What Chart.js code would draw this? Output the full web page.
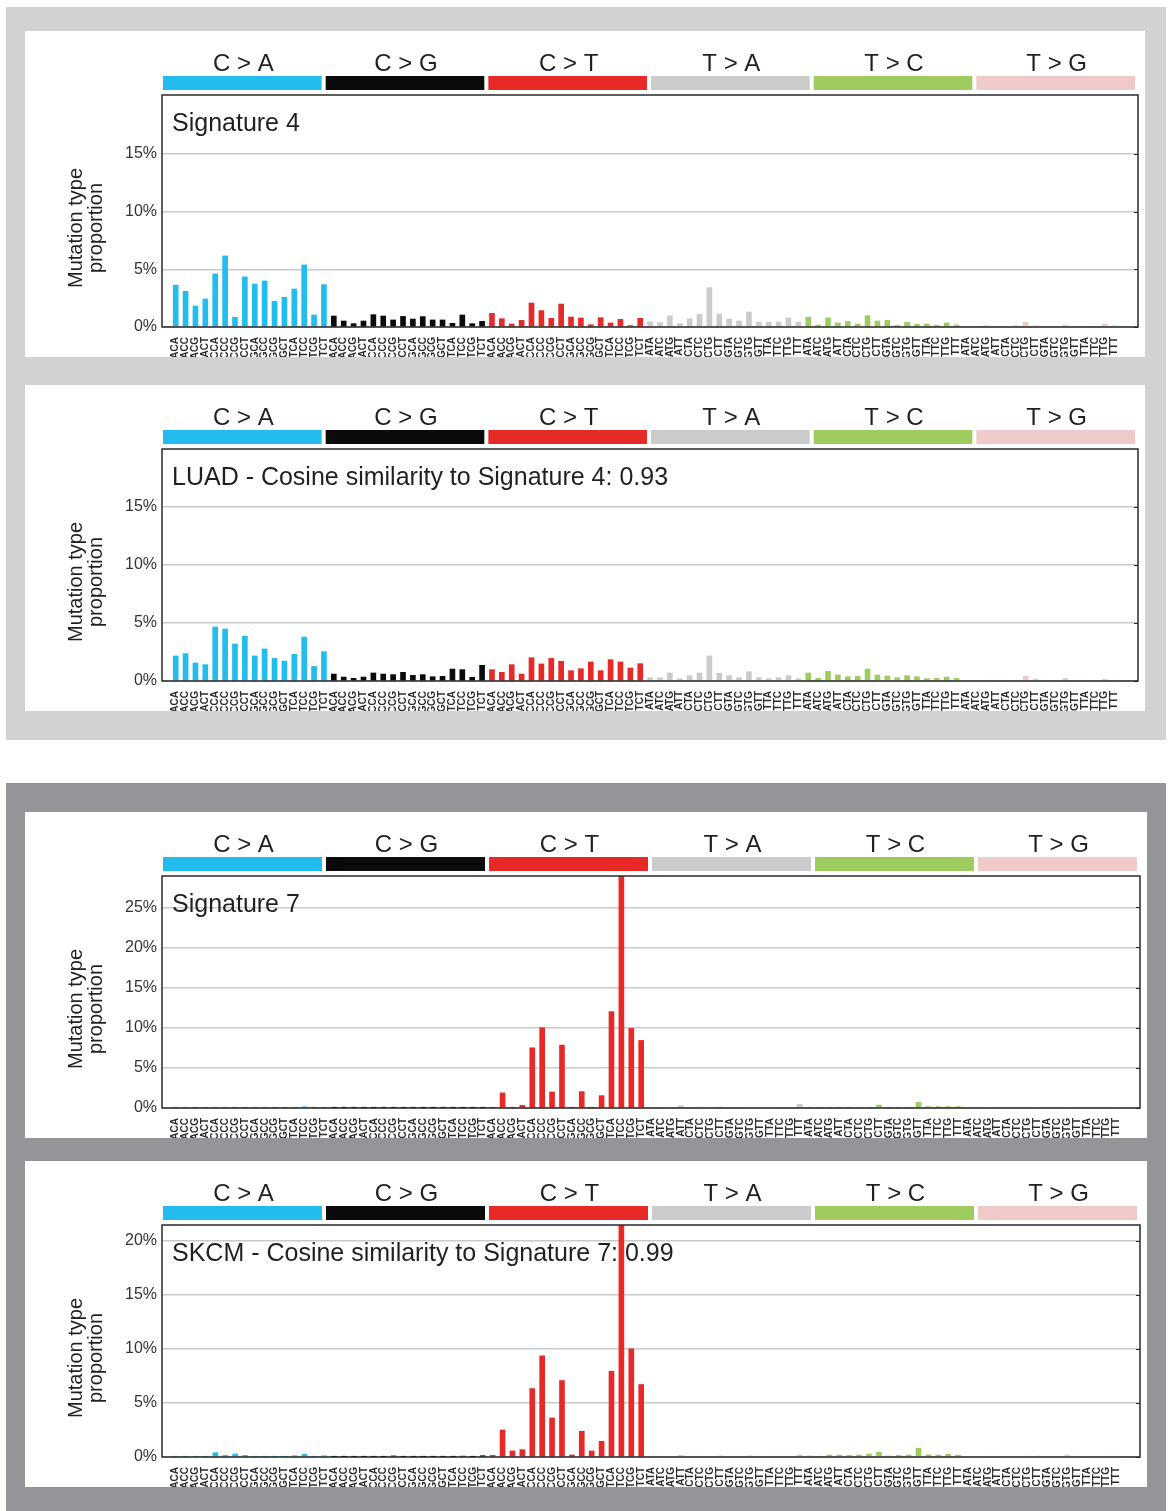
<!DOCTYPE html>
<html>
<head>
<meta charset="utf-8">
<title>Mutational signatures</title>
<script src="https://cdn.jsdelivr.net/npm/chart.js@4.4.1/dist/chart.umd.min.js"></script>
<style>
  body { margin: 0; background: #fff; width: 1168px; height: 1511px; position: relative; overflow: hidden; }
  .group { position: absolute; left: 6px; width: 1160px; }
  #groupTop { top: 7px; height: 733px; background: #d1d2d4; }
  #groupBottom { top: 783px; height: 728px; background: #939598; }
  .panel { position: absolute; left: 25px; background: #fff; }
  .panel canvas { display: block; }
</style>
</head>
<body>
<div class="group" id="groupTop"></div>
<div class="group" id="groupBottom"></div>
<div class="panel" style="top:31px"><canvas id="chartSig4" width="1120" height="326"></canvas></div>
<div class="panel" style="top:385px"><canvas id="chartLuad" width="1120" height="326"></canvas></div>
<div class="panel" style="top:812px"><canvas id="chartSig7" width="1122" height="326"></canvas></div>
<div class="panel" style="top:1161px"><canvas id="chartSkcm" width="1122" height="326"></canvas></div>

<script>
// --- Daten ---
const mutationTypes = ["C > A", "C > G", "C > T", "T > A", "T > C", "T > G"];
const typeColors = ["#22bdee", "#0b0b0b", "#e72a28", "#cbcbcb", "#9fcc5f", "#efcac8"];
const contextsC = ["ACA","ACC","ACG","ACT","CCA","CCC","CCG","CCT","GCA","GCC","GCG","GCT","TCA","TCC","TCG","TCT"];
const contextsT = ["ATA","ATC","ATG","ATT","CTA","CTC","CTG","CTT","GTA","GTC","GTG","GTT","TTA","TTC","TTG","TTT"];

// Werte in Prozent, 16 pro Mutationstyp
const sig4 = [
  3.61, 3.09, 1.82, 2.43, 4.60, 6.16, 0.84, 4.34, 3.73, 3.99, 2.23, 2.57, 3.29, 5.38, 1.04, 3.67,
  0.95, 0.52, 0.29, 0.52, 1.07, 0.95, 0.61, 0.92, 0.69, 0.90, 0.61, 0.61, 0.32, 1.04, 0.29, 0.49,
  1.18, 0.72, 0.26, 0.58, 2.08, 1.42, 0.75, 1.99, 0.87, 0.78, 0.20, 0.81, 0.35, 0.66, 0.12, 0.75,
  0.46, 0.38, 0.98, 0.29, 0.72, 1.10, 3.41, 1.13, 0.69, 0.52, 1.30, 0.43, 0.43, 0.43, 0.78, 0.43,
  0.84, 0.17, 0.78, 0.35, 0.49, 0.26, 0.98, 0.52, 0.58, 0.14, 0.40, 0.23, 0.26, 0.14, 0.35, 0.17,
  0.03, 0.03, 0.12, 0.03, 0.03, 0.12, 0.40, 0.09, 0.03, 0.03, 0.17, 0.03, 0.03, 0.03, 0.26, 0.09
];
const luad = [
  2.16, 2.36, 1.55, 1.41, 4.66, 4.48, 3.19, 3.85, 2.16, 2.76, 1.95, 1.72, 2.30, 3.79, 1.26, 2.53,
  0.60, 0.34, 0.23, 0.34, 0.69, 0.60, 0.55, 0.75, 0.49, 0.55, 0.37, 0.40, 1.03, 0.98, 0.32, 1.35,
  0.98, 0.75, 1.41, 0.60, 2.01, 1.47, 1.95, 1.70, 0.89, 1.06, 1.64, 0.89, 1.84, 1.64, 1.12, 1.49,
  0.29, 0.29, 0.69, 0.20, 0.46, 0.69, 2.16, 0.66, 0.46, 0.29, 0.80, 0.29, 0.20, 0.29, 0.46, 0.20,
  0.69, 0.23, 0.83, 0.52, 0.37, 0.40, 1.03, 0.52, 0.43, 0.29, 0.46, 0.37, 0.20, 0.23, 0.34, 0.23,
  0.03, 0.03, 0.06, 0.03, 0.03, 0.06, 0.40, 0.17, 0.03, 0.06, 0.23, 0.03, 0.03, 0.03, 0.14, 0.06
];
const sig7 = [
  0.02, 0.02, 0.02, 0.02, 0.06, 0.02, 0.02, 0.06, 0.02, 0.02, 0.02, 0.02, 0.06, 0.15, 0.02, 0.06,
  0.02, 0.02, 0.02, 0.02, 0.02, 0.02, 0.02, 0.02, 0.02, 0.02, 0.02, 0.02, 0.02, 0.04, 0.02, 0.04,
  0.05, 1.88, 0.05, 0.33, 7.50, 10.0, 2.00, 7.83, 0.05, 2.04, 0.05, 1.54, 12.0, 31.0, 9.92, 8.42,
  0.02, 0.02, 0.02, 0.29, 0.02, 0.12, 0.05, 0.12, 0.02, 0.02, 0.02, 0.02, 0.02, 0.05, 0.05, 0.46,
  0.02, 0.02, 0.05, 0.08, 0.08, 0.08, 0.05, 0.37, 0.02, 0.02, 0.05, 0.71, 0.17, 0.17, 0.17, 0.17,
  0.02, 0.02, 0.02, 0.02, 0.02, 0.02, 0.02, 0.05, 0.02, 0.02, 0.05, 0.02, 0.02, 0.02, 0.02, 0.05
];
const skcm = [
  0.05, 0.02, 0.02, 0.02, 0.40, 0.15, 0.28, 0.15, 0.02, 0.02, 0.02, 0.02, 0.12, 0.25, 0.02, 0.12,
  0.02, 0.02, 0.02, 0.02, 0.02, 0.02, 0.10, 0.02, 0.02, 0.02, 0.02, 0.02, 0.02, 0.08, 0.02, 0.12,
  0.15, 2.50, 0.56, 0.68, 6.33, 9.35, 3.61, 7.07, 0.19, 2.38, 0.56, 1.45, 7.93, 23.0, 10.0, 6.70,
  0.02, 0.02, 0.02, 0.15, 0.02, 0.02, 0.02, 0.10, 0.02, 0.02, 0.10, 0.02, 0.02, 0.02, 0.02, 0.18,
  0.09, 0.02, 0.18, 0.18, 0.15, 0.18, 0.28, 0.43, 0.09, 0.15, 0.18, 0.80, 0.21, 0.18, 0.25, 0.18,
  0.02, 0.02, 0.05, 0.02, 0.02, 0.02, 0.08, 0.08, 0.02, 0.02, 0.18, 0.02, 0.02, 0.02, 0.02, 0.02
];

// Y-Achsen-Ticks (Prozent)
const yTicksSig4 = [0, 5, 10, 15];
const yTicksLuad = [0, 5, 10, 15];
const yTicksSig7 = [0, 5, 10, 15, 20, 25];
const yTicksSkcm = [0, 5, 10, 15, 20];

const contextLabels = mutationTypes.flatMap((t, g) => (g < 3 ? contextsC : contextsT));
const FONT = '"Liberation Sans", Arial, Helvetica, sans-serif';
const TEXT_COLOR = "#231f20";

// Kopfzeile, Rahmen, Titel und Achsentitel
const signaturePlot = {
  id: "signaturePlot",
  beforeDatasetsDraw(chart, args, opts) {
    const { ctx, chartArea: a } = chart;
    ctx.save();
    ctx.font = "25px " + FONT;
    ctx.fillStyle = TEXT_COLOR;
    ctx.textAlign = "left";
    ctx.textBaseline = "alphabetic";
    ctx.fillText(opts.title, a.left + 10, a.top + 36);
    ctx.restore();
  },
  afterDraw(chart, args, opts) {
    const { ctx, chartArea: a } = chart;
    const w6 = (a.right - a.left) / mutationTypes.length;
    ctx.save();

    // Mutationstypen oben
    mutationTypes.forEach((t, g) => {
      const x0 = a.left + g * w6;
      ctx.fillStyle = typeColors[g];
      ctx.fillRect(x0 + 1, a.top - 19, w6 - 4, 14);
      ctx.fillStyle = TEXT_COLOR;
      ctx.font = "24px " + FONT;
      ctx.textAlign = "center";
      ctx.textBaseline = "alphabetic";
      ctx.fillText(t, x0 + w6 / 2, a.top - 24);
    });

    // Rahmen
    ctx.strokeStyle = "#2a2a2a";
    ctx.lineWidth = 1.5;
    ctx.strokeRect(a.left, a.top, a.right - a.left, a.bottom - a.top);

    // kleine Ticks am rechten Rand
    const yScale = chart.scales.y;
    ctx.lineWidth = 1;
    yScale.ticks.forEach(t => {
      const py = Math.round(yScale.getPixelForValue(t.value)) + 0.5;
      ctx.beginPath();
      ctx.moveTo(a.right - 4, py);
      ctx.lineTo(a.right, py);
      ctx.stroke();
    });

    // Y-Achsentitel, zweizeilig
    ctx.fillStyle = TEXT_COLOR;
    ctx.font = "20px " + FONT;
    ctx.textAlign = "center";
    ctx.textBaseline = "alphabetic";
    [["Mutation type", 57], ["proportion", 77]].forEach(([txt, bx]) => {
      ctx.save();
      ctx.translate(bx, 197);
      ctx.rotate(-Math.PI / 2);
      ctx.fillText(txt, 0, 0);
      ctx.restore();
    });

    ctx.restore();
  }
};

function makePanel(canvasId, title, values, yMax, yTicks) {
  const ctx = document.getElementById(canvasId);
  return new Chart(ctx, {
    type: "bar",
    data: {
      datasets: [{
        data: values.map((v, i) => ({ x: i, y: v })),
        backgroundColor: values.map((v, i) => typeColors[Math.floor(i / 16)]),
        barThickness: 5,
        borderWidth: 0,
        clip: 0
      }]
    },
    options: {
      responsive: false,
      animation: false,
      layout: { padding: { top: 64, right: 7, left: 0, bottom: 0 } },
      plugins: {
        legend: { display: false },
        tooltip: { enabled: false },
        signaturePlot: { title: title }
      },
      scales: {
        x: {
          type: "linear",
          min: -0.87,
          max: 96.85,
          grid: { display: false },
          border: { display: false },
          afterBuildTicks: scale => {
            scale.ticks = contextLabels.map((l, i) => ({ value: i }));
          },
          afterFit: scale => { scale.height = 30; },
          ticks: {
            autoSkip: false,
            minRotation: 90,
            maxRotation: 90,
            padding: 2,
            color: "#2b2b2b",
            font: { family: FONT, size: 10, weight: "bold" },
            callback: value => contextLabels[value]
          }
        },
        y: {
          min: 0,
          max: yMax,
          grid: { color: "#c9c9c9", lineWidth: 1.5, drawTicks: false },
          border: { display: false },
          afterBuildTicks: scale => {
            scale.ticks = yTicks.map(v => ({ value: v }));
          },
          afterFit: scale => { scale.width = 137; },
          ticks: {
            padding: 5,
            color: "#333333",
            font: { family: FONT, size: 16 },
            callback: value => value + "%"
          }
        }
      }
    },
    plugins: [signaturePlot]
  });
}

makePanel("chartSig4", "Signature 4", sig4, 20.1, yTicksSig4);
makePanel("chartLuad", "LUAD - Cosine similarity to Signature 4: 0.93", luad, 20, yTicksLuad);
makePanel("chartSig7", "Signature 7", sig7, 28.9, yTicksSig7);
makePanel("chartSkcm", "SKCM - Cosine similarity to Signature 7: 0.99", skcm, 21.45, yTicksSkcm);
</script>
</body>
</html>
